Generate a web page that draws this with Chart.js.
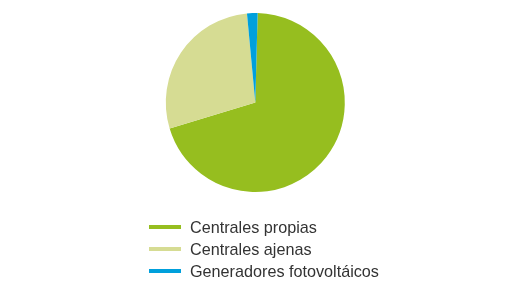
<!DOCTYPE html>
<html>
<head>
<meta charset="utf-8">
<script src="https://cdn.jsdelivr.net/npm/chart.js@4/dist/chart.umd.min.js"></script>
<style>
  html, body { margin: 0; padding: 0; background: #ffffff; }
  #wrap { position: relative; width: 512px; height: 281px; overflow: hidden; }
  #c { position: absolute; left: 0; top: 0; }
  #legend { position: absolute; left: 149px; top: 216px; font-family: "Liberation Sans", Arial, sans-serif; font-size: 16.2px; color: #333333; }
  .item { display: flex; align-items: center; height: 22px; }
  .mark { width: 32px; height: 4px; margin-right: 9px; }
</style>
</head>
<body>
<div id="wrap">
  <canvas id="c" width="512" height="281"></canvas>
  <div id="legend"></div>
</div>
<script>
const categories = ["Centrales propias", "Centrales ajenas", "Generadores fotovoltáicos"];
const values = [69.9, 28.2, 1.9];
const colors = ["#96be1f", "#d6dc93", "#00a0dc"];

const chart = new Chart(document.getElementById('c'), {
  type: 'pie',
  data: {
    labels: categories,
    datasets: [{ data: values, backgroundColor: colors, borderWidth: 0 }]
  },
  options: {
    responsive: false,
    animation: false,
    rotation: 1.5,
    layout: { padding: { top: 13, bottom: 89, left: 0, right: 1.4 } },
    plugins: { legend: { display: false }, tooltip: { enabled: false } }
  }
});

const legend = document.getElementById('legend');
categories.forEach((name, i) => {
  const row = document.createElement('div');
  row.className = 'item';
  const m = document.createElement('span');
  m.className = 'mark';
  m.style.background = colors[i];
  const t = document.createElement('span');
  t.textContent = name;
  row.appendChild(m);
  row.appendChild(t);
  legend.appendChild(row);
});
</script>
</body>
</html>
